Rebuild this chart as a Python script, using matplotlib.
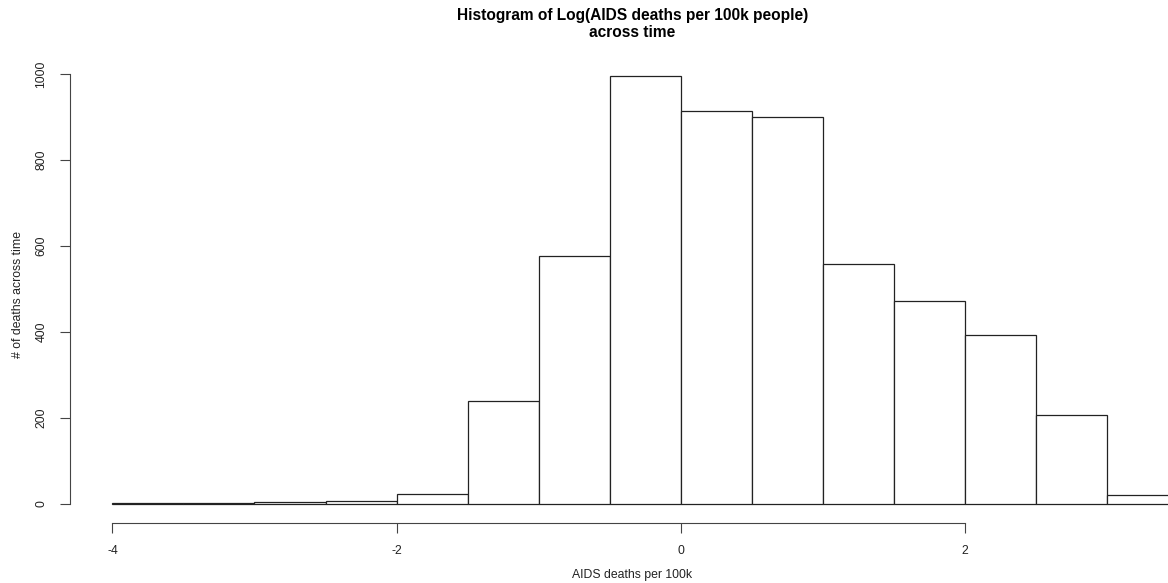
import matplotlib.pyplot as plt

# histogram bins (left edges) and counts
bin_left = [-4.0, -3.5, -3.0, -2.5, -2.0, -1.5, -1.0, -0.5, 0.0, 0.5, 1.0, 1.5, 2.0, 2.5, 3.0]
counts = [1, 1, 3, 7, 23, 238, 576, 996, 915, 899, 558, 472, 392, 207, 19]
x_ticks = [-4, -2, 0, 2]
y_ticks = [0, 200, 400, 600, 800, 1000]

plt.rcParams['font.family'] = ['Liberation Sans', 'DejaVu Sans']

fig = plt.figure(figsize=(11.68, 5.83), dpi=100)
ax = fig.add_axes([0.0598, 0.103, 0.985, 0.7965])

ax.bar(bin_left, counts, width=0.5, align='edge', color='white',
       edgecolor='#222222', linewidth=0.9)

ax.set_xlim(-4.3, 3.8)
ax.set_ylim(-45, 1035.84)

for s in ['top', 'right']:
    ax.spines[s].set_visible(False)
ax.spines['left'].set_bounds(0, 1000)
ax.spines['bottom'].set_bounds(-4, 2)
ax.spines['left'].set_color('#444444')
ax.spines['bottom'].set_color('#444444')

ax.set_xticks(x_ticks)
ax.set_xticklabels([str(t) for t in x_ticks])
ax.set_yticks(y_ticks)
ax.set_yticklabels([str(t) for t in y_ticks], rotation=90, va='center')
ax.tick_params(length=7, width=0.8, color='#444444', labelsize=8.8, pad=9,
               labelcolor='#222222')

fig.text(0.5415, 0.959, 'Histogram of Log(AIDS deaths per 100k people)\nacross time',
         ha='center', va='center', fontsize=11.2, fontweight='bold',
         linespacing=1.15)
fig.text(0.5415, 0.003, 'AIDS deaths per 100k', ha='center', va='bottom',
         fontsize=8.8, color='#222222')
fig.text(0.0155, 0.495, '# of deaths across time', ha='center', va='center',
         rotation=90, fontsize=8.8, color='#222222')

fig.savefig('out.png', dpi=100)
